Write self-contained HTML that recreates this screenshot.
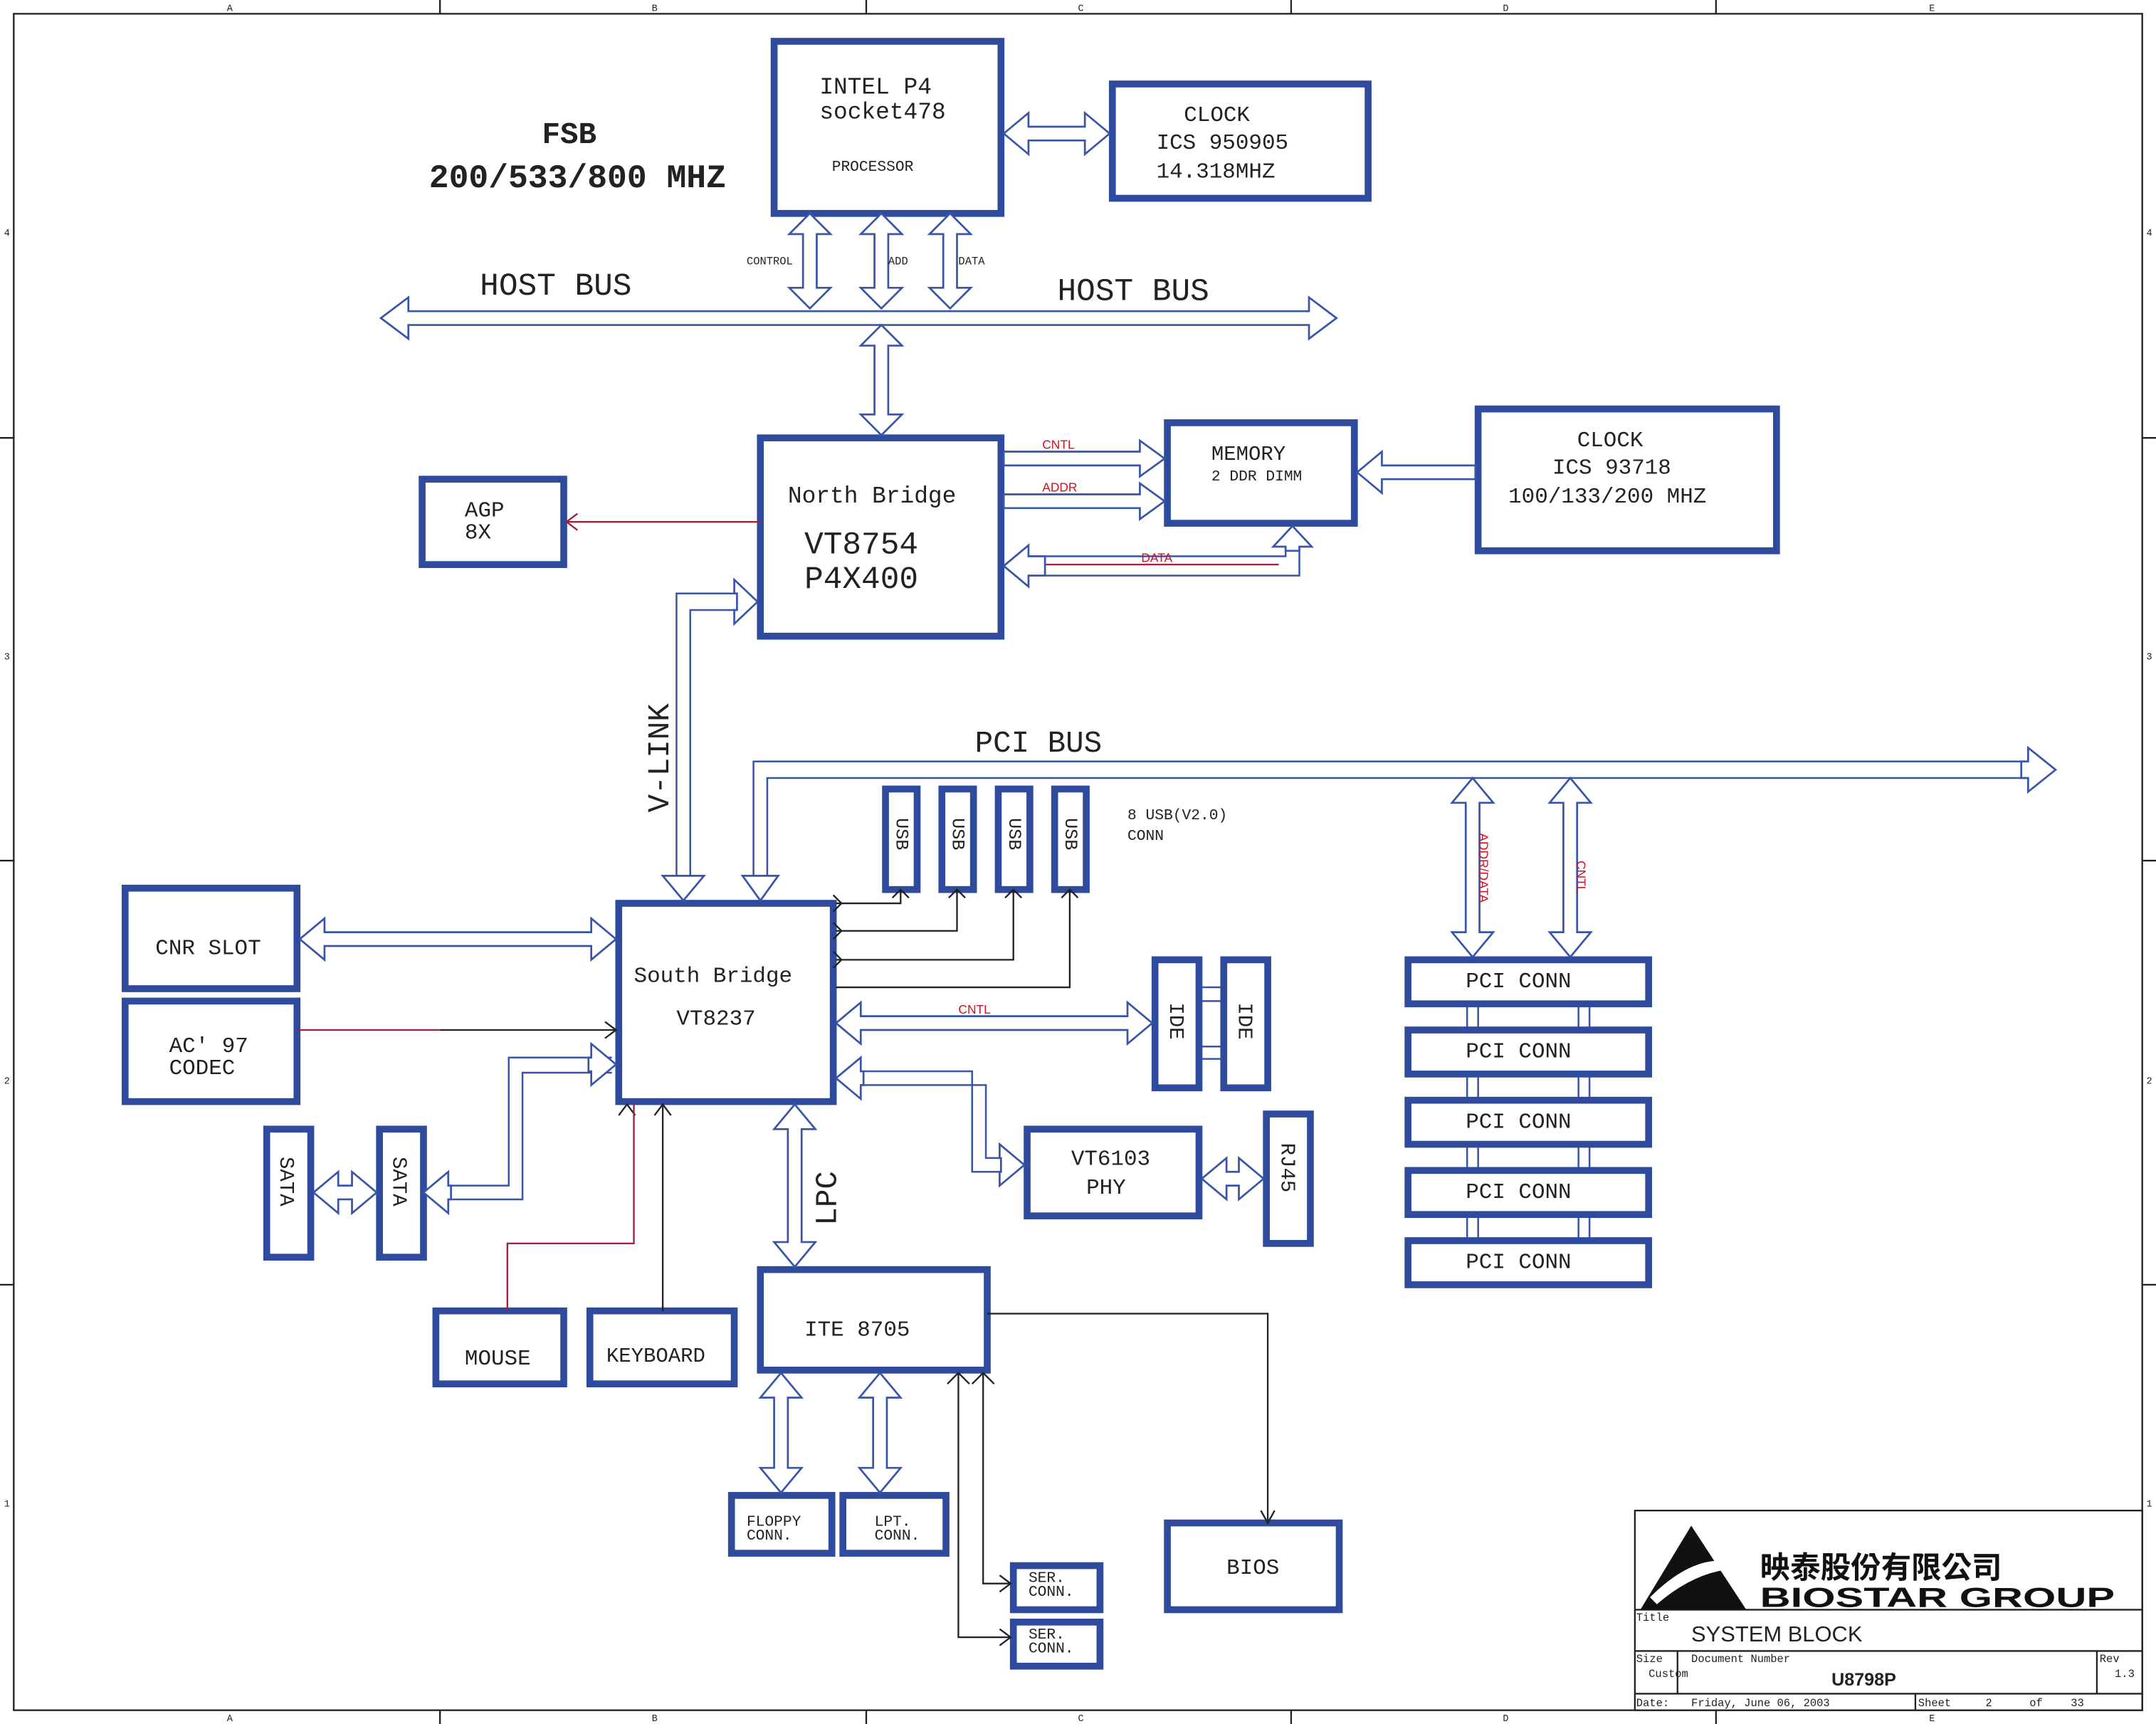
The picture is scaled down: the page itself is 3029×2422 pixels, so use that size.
<!DOCTYPE html>
<html><head><meta charset="utf-8">
<style>
html,body{margin:0;padding:0;background:#fff;}
svg{display:block;}
text{font-family:"Liberation Mono",monospace;fill:#222;}
.bx{fill:#fff;stroke:#2f4b9e;stroke-width:5;}
.ln{fill:none;stroke:#3a55a8;stroke-width:1.3;}
.bk{fill:none;stroke:#222;stroke-width:1.2;}
.rd{fill:none;stroke:#a0203c;stroke-width:1.2;}
.ar{fill:#fff;stroke:#3a55a8;stroke-width:1.4;}
.rt{fill:#d01020;font-family:"Liberation Sans",sans-serif;font-size:9px;}
.sf{font-family:"Liberation Sans",sans-serif;}
</style></head><body>
<svg id="s" width="3029" height="2422" viewBox="0 0 1568 1252" preserveAspectRatio="none" xmlns="http://www.w3.org/2000/svg">
<rect x="0" y="0" width="1568" height="1252" fill="#fff"/>
<rect x="10" y="10" width="1548" height="1232" class="bk"/>
<g class="bk">
<line x1="320" y1="0" x2="320" y2="10"/><line x1="630" y1="0" x2="630" y2="10"/><line x1="939" y1="0" x2="939" y2="10"/><line x1="1248" y1="0" x2="1248" y2="10"/>
<line x1="320" y1="1242" x2="320" y2="1252"/><line x1="630" y1="1242" x2="630" y2="1252"/><line x1="939" y1="1242" x2="939" y2="1252"/><line x1="1248" y1="1242" x2="1248" y2="1252"/>
<line x1="0" y1="318" x2="10" y2="318"/><line x1="0" y1="625" x2="10" y2="625"/><line x1="0" y1="933" x2="10" y2="933"/>
<line x1="1558" y1="318" x2="1568" y2="318"/><line x1="1558" y1="625" x2="1568" y2="625"/><line x1="1558" y1="933" x2="1568" y2="933"/>
</g>
<g font-size="7" class="sf">
<text x="165" y="8">A</text><text x="474" y="8">B</text><text x="784" y="8">C</text><text x="1093" y="8">D</text><text x="1403" y="8">E</text>
<text x="165" y="1250">A</text><text x="474" y="1250">B</text><text x="784" y="1250">C</text><text x="1093" y="1250">D</text><text x="1403" y="1250">E</text>
<text x="3" y="171">4</text><text x="3" y="479">3</text><text x="3" y="787">2</text><text x="3" y="1094">1</text>
<text x="1561" y="171">4</text><text x="1561" y="479">3</text><text x="1561" y="787">2</text><text x="1561" y="1094">1</text>
</g>

<!-- thin lines (behind boxes) -->
<g class="ln">
<polyline points="536,431 492,431 492,636"/><polyline points="536,443 502,443 502,636"/>
<polyline points="548,636 548,553 1475,553"/><polyline points="558,636 558,565 1475,565"/>
<polyline points="935,397 935,404 748,404"/><polyline points="945,397 945,418 748,418"/>
<polyline points="445,768 370,768 370,861 326,861"/><polyline points="445,779 380,779 380,871 326,871"/>
<polyline points="625,778 707,778 707,851 730,851"/><polyline points="625,788 717,788 717,841 730,841"/>
<line x1="1067" y1="729" x2="1067" y2="901"/><line x1="1075" y1="729" x2="1075" y2="901"/>
<line x1="1148" y1="729" x2="1148" y2="901"/><line x1="1156" y1="729" x2="1156" y2="901"/>
<line x1="872" y1="717" x2="890" y2="717"/><line x1="872" y1="727" x2="890" y2="727"/>
<line x1="872" y1="760" x2="890" y2="760"/><line x1="872" y1="769" x2="890" y2="769"/>
</g>

<g class="bx">
<rect x="563" y="30" width="165" height="125"/>
<rect x="809" y="61" width="186" height="83"/>
<rect x="553" y="318" width="175" height="144"/>
<rect x="849" y="307" width="136" height="73"/>
<rect x="1075" y="297" width="217" height="103"/>
<rect x="307" y="348" width="103" height="62"/>
<rect x="450" y="656" width="156" height="144"/>
<rect x="91" y="645" width="125" height="73"/>
<rect x="91" y="727" width="125" height="73"/>
<rect x="194" y="820" width="32" height="93"/>
<rect x="276" y="820" width="32" height="93"/>
<rect x="644" y="573" width="23" height="73"/>
<rect x="685" y="573" width="23" height="73"/>
<rect x="726" y="573" width="23" height="73"/>
<rect x="767" y="573" width="23" height="73"/>
<rect x="840" y="697" width="32" height="93"/>
<rect x="890" y="697" width="32" height="93"/>
<rect x="747" y="820" width="125" height="63"/>
<rect x="921" y="809" width="32" height="94"/>
<rect x="1024" y="697" width="175" height="32"/>
<rect x="1024" y="748" width="175" height="32"/>
<rect x="1024" y="799" width="175" height="32"/>
<rect x="1024" y="850" width="175" height="32"/>
<rect x="1024" y="901" width="175" height="32"/>
<rect x="317" y="952" width="93" height="53"/>
<rect x="429" y="952" width="105" height="53"/>
<rect x="553" y="922" width="165" height="73"/>
<rect x="532" y="1086" width="73" height="42"/>
<rect x="613" y="1086" width="75" height="42"/>
<rect x="737" y="1137" width="63" height="32"/>
<rect x="737" y="1178" width="63" height="32"/>
<rect x="849" y="1106" width="125" height="63"/>
</g>

<g class="bk">
<polyline points="608,656 655,656 655,646"/><polyline points="608,676 696,676 696,646"/>
<polyline points="608,697 737,697 737,646"/><polyline points="608,717 778,717 778,646"/>
<polyline points="649,652 655,646 661,652"/><polyline points="690,652 696,646 702,652"/>
<polyline points="731,652 737,646 743,652"/><polyline points="772,652 778,646 784,652"/>
<polyline points="606,650 612,656 606,662"/><polyline points="606,670 612,676 606,682"/>
<polyline points="606,691 612,697 606,703"/>
<line x1="320" y1="748" x2="448" y2="748"/><polyline points="440,742 448,748 440,754"/>
<line x1="482" y1="952" x2="482" y2="802"/><polyline points="476,810 482,802 488,810"/>
<polyline points="450,810 456,802 462,810"/>
<polyline points="718,954 922,954 922,1104"/>
<polyline points="917,1097 922,1106 927,1097" />
<polyline points="697,997 697,1189 735,1189"/><polyline points="715,997 715,1150 735,1150"/>
<polyline points="727,1144 735,1150 727,1156"/><polyline points="727,1183 735,1189 727,1195"/>
<polyline points="689,1005 697,997 705,1005"/><polyline points="707,1005 715,997 723,1005"/>
</g>
<g class="rd">
<line x1="216" y1="748" x2="320" y2="748"/>
<line x1="553" y1="379" x2="412" y2="379"/><polyline points="420,373 412,379 420,385"/>
<polyline points="369,952 369,903 461,903 461,802"/>
<line x1="730" y1="328" x2="832" y2="328"/>
<line x1="730" y1="359" x2="832" y2="359"/>
<line x1="748" y1="410" x2="930" y2="410"/>
<line x1="1000" y1="340" x2="1073" y2="340"/>
<line x1="625" y1="738" x2="820" y2="738"/>
<line x1="1073" y1="575" x2="1073" y2="690"/>
<line x1="1144" y1="575" x2="1144" y2="690"/>
</g>
<g id="arrows"></g>

<text x="414" y="104" font-size="22" font-weight="bold" text-anchor="middle">FSB</text>
<text x="420" y="136" font-size="24" font-weight="bold" text-anchor="middle">200/533/800 MHZ</text>
<text x="596" y="68" font-size="17">INTEL P4</text>
<text x="596" y="86" font-size="17">socket478</text>
<text x="605" y="124" font-size="11">PROCESSOR</text>
<text x="861" y="88" font-size="16">CLOCK</text>
<text x="841" y="108" font-size="16">ICS 950905</text>
<text x="841" y="129" font-size="16">14.318MHZ</text>
<text x="543" y="192" font-size="8">CONTROL</text>
<text x="646" y="192" font-size="8">ADD</text>
<text x="697" y="192" font-size="8">DATA</text>
<text x="349" y="214" font-size="23">HOST BUS</text>
<text x="769" y="218" font-size="23">HOST BUS</text>
<text x="573" y="365" font-size="17">North Bridge</text>
<text x="585" y="402" font-size="23">VT8754</text>
<text x="585" y="427" font-size="23">P4X400</text>
<text x="881" y="334" font-size="15">MEMORY</text>
<text x="881" y="349" font-size="11">2 DDR DIMM</text>
<text x="1147" y="324" font-size="16">CLOCK</text>
<text x="1129" y="344" font-size="16">ICS 93718</text>
<text x="1097" y="365" font-size="16">100/133/200 MHZ</text>
<text x="338" y="375" font-size="16">AGP</text>
<text x="338" y="391" font-size="16">8X</text>
<text class="rt" x="758" y="326">CNTL</text>
<text class="rt" x="758" y="357">ADDR</text>
<text class="rt" x="830" y="408">DATA</text>
<text x="0" y="0" font-size="22" transform="translate(486,590) rotate(-90)">V-LINK</text>
<text x="709" y="546" font-size="22">PCI BUS</text>
<text x="820" y="595" font-size="11">8 USB(V2.0)</text>
<text x="820" y="610" font-size="11">CONN</text>
<g font-size="13">
<text transform="translate(652,594) rotate(90)">USB</text>
<text transform="translate(693,594) rotate(90)">USB</text>
<text transform="translate(734,594) rotate(90)">USB</text>
<text transform="translate(775,594) rotate(90)">USB</text>
<text transform="translate(851,728) rotate(90)" font-size="15">IDE</text>
<text transform="translate(901,728) rotate(90)" font-size="15">IDE</text>
<text transform="translate(932,830) rotate(90)" font-size="15">RJ45</text>
<text transform="translate(204,840) rotate(90)" font-size="15">SATA</text>
<text transform="translate(286,840) rotate(90)" font-size="15">SATA</text>
</g>
<text class="rt" transform="translate(1076,605) rotate(90)">ADDR/DATA</text>
<text class="rt" transform="translate(1147,625) rotate(90)">CNTL</text>
<text class="rt" x="697" y="736">CNTL</text>
<text x="113" y="693" font-size="16">CNR SLOT</text>
<text x="123" y="764" font-size="16">AC' 97</text>
<text x="123" y="780" font-size="16">CODEC</text>
<text x="461" y="713" font-size="16">South Bridge</text>
<text x="492" y="744" font-size="16">VT8237</text>
<text x="779" y="846" font-size="16">VT6103</text>
<text x="790" y="867" font-size="16">PHY</text>
<g font-size="16">
<text x="1066" y="717">PCI CONN</text><text x="1066" y="768">PCI CONN</text><text x="1066" y="819">PCI CONN</text><text x="1066" y="870">PCI CONN</text><text x="1066" y="921">PCI CONN</text>
</g>
<text x="0" y="0" font-size="22" transform="translate(608,890) rotate(-90)">LPC</text>
<text x="338" y="991" font-size="16">MOUSE</text>
<text x="441" y="989" font-size="15">KEYBOARD</text>
<text x="585" y="970" font-size="16">ITE 8705</text>
<text x="543" y="1108" font-size="11">FLOPPY</text>
<text x="543" y="1118" font-size="11">CONN.</text>
<text x="636" y="1108" font-size="11">LPT.</text>
<text x="636" y="1118" font-size="11">CONN.</text>
<text x="748" y="1149" font-size="11">SER.</text>
<text x="748" y="1159" font-size="11">CONN.</text>
<text x="748" y="1190" font-size="11">SER.</text>
<text x="748" y="1200" font-size="11">CONN.</text>
<text x="892" y="1143" font-size="16">BIOS</text>

<g class="bk">
<rect x="1189" y="1097" width="369" height="145"/>
<line x1="1189" y1="1169" x2="1558" y2="1169"/>
<line x1="1189" y1="1199" x2="1558" y2="1199"/>
<line x1="1189" y1="1230" x2="1558" y2="1230"/>
<line x1="1220" y1="1199" x2="1220" y2="1230"/>
<line x1="1525" y1="1199" x2="1525" y2="1230"/>
<line x1="1393" y1="1230" x2="1393" y2="1242"/>
</g>
<path d="M1193,1169 L1230,1108 L1270,1169 Z" fill="#111"/>
<path d="M1200,1160 Q1240,1120 1275,1140 Q1240,1135 1205,1165 Z" fill="#fff"/>
<text x="1280" y="1146" font-size="22" font-weight="bold" style="font-family:'Noto Sans CJK TC',sans-serif;fill:#111">映泰股份有限公司</text>
<text x="1280" y="1167" font-size="20" font-weight="bold" class="sf" style="fill:#111" textLength="258" lengthAdjust="spacingAndGlyphs">BIOSTAR GROUP</text>
<g class="sf" font-size="8">
<text x="1190" y="1177">Title</text>
<text x="1190" y="1207">Size</text>
<text x="1199" y="1218">Custom</text>
<text x="1230" y="1207">Document Number</text>
<text x="1527" y="1207">Rev</text>
<text x="1538" y="1218">1.3</text>
<text x="1190" y="1239">Date:</text>
<text x="1230" y="1239">Friday, June 06, 2003</text>
<text x="1395" y="1239">Sheet</text>
<text x="1444" y="1239">2</text>
<text x="1476" y="1239">of</text>
<text x="1506" y="1239">33</text>
</g>
<text x="1230" y="1192" font-size="16" class="sf">SYSTEM BLOCK</text>
<text x="1332" y="1224" font-size="13" font-weight="bold" class="sf">U8798P</text>
</svg>
<script>
var g=document.getElementById('arrows'),NS='http://www.w3.org/2000/svg';
function poly(p){var e=document.createElementNS(NS,'polygon');e.setAttribute('points',p.map(function(a){return a[0].toFixed(1)+','+a[1].toFixed(1)}).join(' '));e.setAttribute('class','ar');g.appendChild(e);}
function arr(dir,c,a,b,sw,hw,hl,h1,h2){
 var p=[],pts=[];
 if(h1){pts.push([a,0],[a+hl,-hw],[a+hl,-sw]);}else{pts.push([a,-sw]);}
 if(h2){pts.push([b-hl,-sw],[b-hl,-hw],[b,0],[b-hl,hw],[b-hl,sw]);}else{pts.push([b,-sw],[b,sw]);}
 if(h1){pts.push([a+hl,sw],[a+hl,hw]);}else{pts.push([a,sw]);}
 pts.forEach(function(q){p.push(dir=='v'?[c+q[1],q[0]]:[q[0],c+q[1]]);});
 poly(p);
}
arr('h',231,277,972,5,15,20,1,1);
arr('v',589,155,224,5,15,15,1,1);
arr('v',641,155,224,5,15,15,1,1);
arr('v',691,155,224,5,15,15,1,1);
arr('v',641,236,316,5,15,15,1,1);
arr('h',97,730,807,5,15,18,1,1);
arr('h',333,730,847,5,13,18,0,1);
arr('h',364,730,847,5,13,18,0,1);
arr('h',343,987,1073,5,15,18,1,0);
arr('v',940,382,400,5,14,15,1,0);
arr('h',411,730,760,7,15,18,1,0);
arr('h',437,536,551,6,16,17,0,1);
arr('v',497,636,654,5,15,18,0,1);
arr('v',553,636,654,5,13,18,0,1);
arr('h',559,1470,1495,6,16,20,0,1);
arr('v',1071,565,695,5,15,18,1,1);
arr('v',1142,565,695,5,15,18,1,1);
arr('h',682,218,448,5,15,18,1,1);
arr('h',743,608,838,5,15,18,1,1);
arr('h',773,428,448,5,15,18,0,1);
arr('h',866,308,328,5,15,18,1,0);
arr('h',866,228,274,5,15,18,1,1);
arr('h',783,608,628,5,15,18,1,0);
arr('h',846,728,745,5,15,18,0,1);
arr('h',856,874,919,5,15,18,1,1);
arr('v',578,802,920,5,15,18,1,1);
arr('v',568,997,1084,5,15,18,1,1);
arr('v',640,997,1084,5,15,18,1,1);
</script>
</body></html>
